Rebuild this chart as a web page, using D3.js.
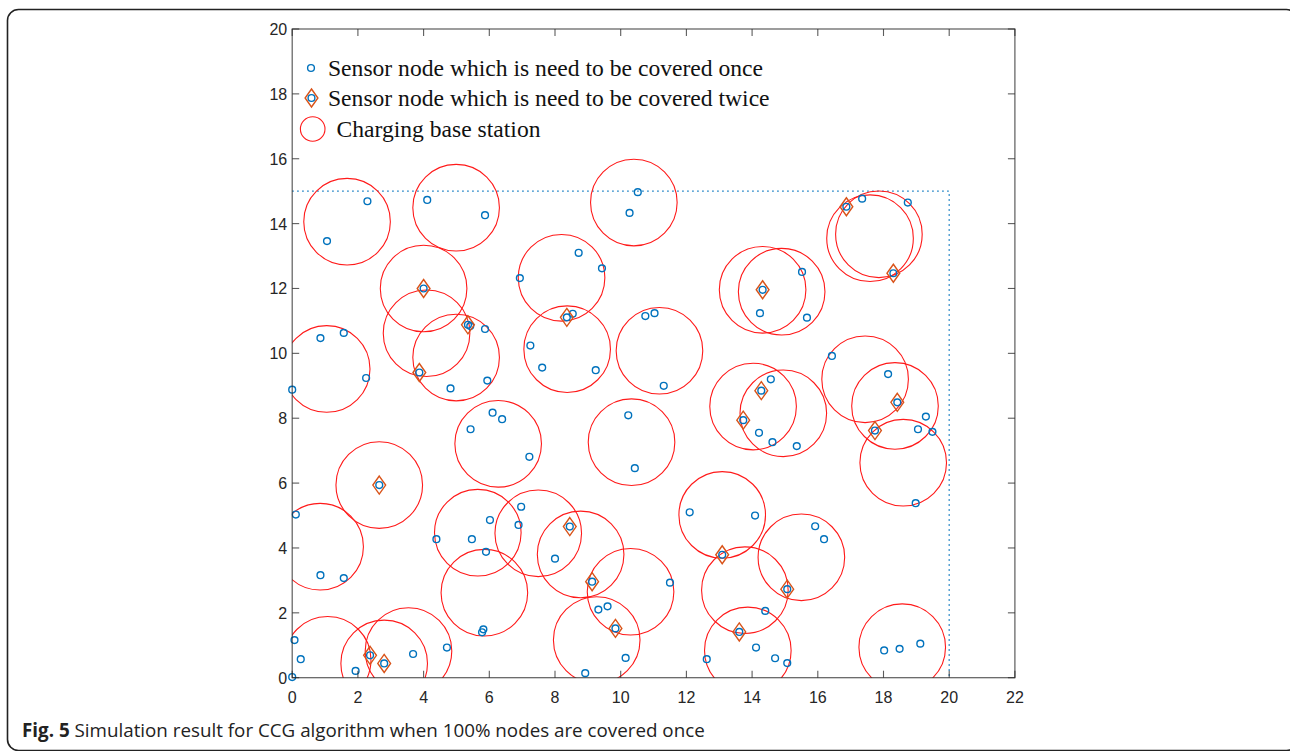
<!DOCTYPE html>
<html>
<head>
<meta charset="utf-8">
<script src="https://cdn.jsdelivr.net/npm/d3@7"></script>
<style>
  html, body { margin: 0; padding: 0; background: #fff; }
  svg { display: block; }
</style>
</head>
<body>
<svg id="chart" width="1290" height="751"></svg>
<script>
// ---------- DATA ----------
const xTicks = [0, 2, 4, 6, 8, 10, 12, 14, 16, 18, 20, 22];
const yTicks = [0, 2, 4, 6, 8, 10, 12, 14, 16, 18, 20];

const legendLabels = [
  "Sensor node which is need to be covered once",
  "Sensor node which is need to be covered twice",
  "Charging base station"
];
const captionBold = "Fig. 5";
const captionText = " Simulation result for CCG algorithm when 100% nodes are covered once";

// region boundary (dotted)
const regionBoundary = [[0, 15], [20, 15], [20, 0]];

// sensor nodes covered once
const sensorNodes = [
  [0.86,10.47],[1.57,10.63],[2.29,14.69],[1.06,13.46],[4.11,14.73],[5.87,14.26],[6.93,12.32],[7.25,10.24],[5.42,10.84],[5.87,10.75],
  [10.52,14.97],[10.27,14.33],[8.72,13.10],[9.43,12.62],[8.54,11.22],[10.75,11.15],[11.03,11.24],[14.24,11.24],
  [17.35,14.77],[18.74,14.65],[15.52,12.51],[15.67,11.10],[16.43,9.92],
  [0.00,8.88],[2.25,9.24],[4.82,8.92],[5.94,9.16],[5.43,7.66],[6.10,8.17],[6.39,7.97],[7.22,6.81],[0.11,5.03],[0.86,3.16],[1.57,3.07],
  [4.39,4.27],[5.47,4.27],[6.02,4.86],[5.90,3.88],[6.97,5.27],[6.89,4.71],[5.82,1.49],[5.78,1.40],[0.07,1.16],[0.26,0.57],[0.00,0.02],
  [1.93,0.21],[3.68,0.73],[4.71,0.93],
  [7.61,9.56],[9.24,9.48],[11.31,9.00],[10.23,8.09],[10.43,6.46],[14.57,9.20],[14.21,7.55],[14.62,7.26],[12.10,5.10],[14.09,5.00],
  [8.00,3.67],[11.50,2.93],[9.32,2.10],[9.60,2.20],[10.15,0.61],[8.92,0.14],[14.40,2.06],[14.12,0.93],[12.62,0.57],[14.70,0.60],
  [18.14,9.36],[19.29,8.05],[19.05,7.66],[19.49,7.58],[18.98,5.38],[15.36,7.14],[15.92,4.67],[16.19,4.27],[18.02,0.84],[18.49,0.89],
  [19.12,1.05],[15.07,0.45]
];

// sensor nodes covered twice
const twiceNodes = [
  [4.00,12.00],[5.35,10.88],[8.36,11.11],[14.32,11.96],[16.87,14.52],[18.30,12.47],[3.87,9.41],[2.65,5.94],[2.37,0.69],[2.80,0.44],
  [14.28,8.85],[13.73,7.94],[13.09,3.79],[8.45,4.66],[9.13,2.96],[9.84,1.52],[13.61,1.41],[18.42,8.49],[17.74,7.62],[15.07,2.73]
];

// charging base stations
const stations = [
  [1.67,14.06],[4.99,14.49],[10.40,14.65],[8.20,12.33],[4.00,12.00],[4.09,10.62],[4.99,9.87],[1.05,9.52],[8.37,10.13],[11.18,10.08],
  [14.32,11.96],[14.90,11.90],[17.59,13.55],[17.86,13.67],[17.44,9.20],[18.35,8.38],[18.60,6.63],[14.03,8.36],[14.95,8.15],[6.27,7.21],
  [10.33,7.26],[2.65,5.94],[0.85,4.04],[5.65,4.47],[7.49,4.45],[8.78,3.80],[5.85,2.62],[10.30,2.65],[9.27,1.16],[13.09,5.02],
  [13.78,2.70],[13.87,0.84],[15.50,3.71],[18.57,0.94],[1.08,0.55],[2.80,0.44],[3.54,0.82]
];

// ---------- STYLE ----------
const BLUE = "#0072BD", ORANGE = "#D95319", RED = "#FF1A1A", AXIS = "#262626";
const plot = { left: 292.2, right: 1014.9, top: 29, bottom: 677.7 };
const stationR = 43.3, nodeR = 3.4, diaW = 6.4, diaH = 9;

const svg = d3.select("#chart");

// outer rounded frame
svg.append("rect")
  .attr("x", 7.5).attr("y", 9.5).attr("width", 1290).attr("height", 741)
  .attr("rx", 11).attr("ry", 11)
  .attr("fill", "none").attr("stroke", "#222").attr("stroke-width", 1.6);

const x = d3.scaleLinear().domain([0, 22]).range([plot.left, plot.right]);
const y = d3.scaleLinear().domain([0, 20]).range([plot.bottom, plot.top]);

const g = svg.append("g");

// clip to axes (for lines only)
svg.append("defs").append("clipPath").attr("id", "clip")
  .append("rect").attr("x", plot.left).attr("y", plot.top)
  .attr("width", plot.right - plot.left).attr("height", plot.bottom - plot.top);

const lines = g.append("g").attr("clip-path", "url(#clip)");
const marks = g.append("g");

// dotted region boundary
lines.append("path")
  .attr("d", d3.line().x(d => x(d[0])).y(d => y(d[1]))(regionBoundary))
  .attr("fill", "none").attr("stroke", BLUE).attr("stroke-width", 1.3)
  .attr("stroke-dasharray", "1.5,3.5");

const diamond = (cx, cy, w, h) => `M${cx},${cy - h}L${cx + w},${cy}L${cx},${cy + h}L${cx - w},${cy}Z`;

// sensor nodes (once) - also drawn under twice nodes
marks.selectAll("circle.node").data(sensorNodes.concat(twiceNodes)).join("circle")
  .attr("class", "node")
  .attr("cx", d => x(d[0])).attr("cy", d => y(d[1])).attr("r", nodeR)
  .attr("fill", "none").attr("stroke", BLUE).attr("stroke-width", 1.4);

// twice nodes diamonds
marks.selectAll("path.tw").data(twiceNodes).join("path")
  .attr("class", "tw")
  .attr("d", d => diamond(x(d[0]), y(d[1]), diaW, diaH))
  .attr("fill", "none").attr("stroke", ORANGE).attr("stroke-width", 1.4);

// stations (circle outlines, clipped at the axes)
lines.selectAll("circle.st").data(stations).join("circle")
  .attr("class", "st")
  .attr("cx", d => x(d[0])).attr("cy", d => y(d[1])).attr("r", stationR)
  .attr("fill", "none").attr("stroke", RED).attr("stroke-width", 1.1);

// ---------- AXES ----------
const tickLen = 7;
const axG = g.append("g");
axG.append("rect")
  .attr("x", plot.left).attr("y", plot.top)
  .attr("width", plot.right - plot.left).attr("height", plot.bottom - plot.top)
  .attr("fill", "none").attr("stroke", AXIS).attr("stroke-opacity", 0.75).attr("stroke-width", 1.2);

xTicks.forEach(t => {
  [[plot.bottom, -tickLen], [plot.top, tickLen]].forEach(([yy, dl]) => {
    axG.append("line").attr("x1", x(t)).attr("x2", x(t)).attr("y1", yy).attr("y2", yy + dl)
      .attr("stroke", AXIS).attr("stroke-opacity", 0.75).attr("stroke-width", 1.1);
  });
  axG.append("text").attr("x", x(t)).attr("y", plot.bottom + 25)
    .attr("text-anchor", "middle").attr("font-family", "Liberation Sans, Arial, sans-serif")
    .attr("font-size", 16).attr("fill", AXIS).text(t);
});
yTicks.forEach(t => {
  [[plot.left, tickLen], [plot.right, -tickLen]].forEach(([xx, dl]) => {
    axG.append("line").attr("y1", y(t)).attr("y2", y(t)).attr("x1", xx).attr("x2", xx + dl)
      .attr("stroke", AXIS).attr("stroke-opacity", 0.75).attr("stroke-width", 1.1);
  });
  axG.append("text").attr("x", plot.left - 5).attr("y", y(t) + 6)
    .attr("text-anchor", "end").attr("font-family", "Liberation Sans, Arial, sans-serif")
    .attr("font-size", 16).attr("fill", AXIS).text(t);
});

// ---------- LEGEND ----------
const leg = g.append("g");
const serif = "Liberation Serif, Times New Roman, serif";
const rows = [68, 98, 129];
leg.append("circle").attr("cx", 311).attr("cy", rows[0]).attr("r", nodeR)
  .attr("fill", "none").attr("stroke", BLUE).attr("stroke-width", 1.4);
leg.append("circle").attr("cx", 311.5).attr("cy", rows[1]).attr("r", nodeR)
  .attr("fill", "none").attr("stroke", BLUE).attr("stroke-width", 1.4);
leg.append("path").attr("d", diamond(311.5, rows[1], diaW, diaH))
  .attr("fill", "none").attr("stroke", ORANGE).attr("stroke-width", 1.4);
leg.append("circle").attr("cx", 312.7).attr("cy", rows[2]).attr("r", 12.3)
  .attr("fill", "none").attr("stroke", RED).attr("stroke-width", 1.1);

const textX = [328, 328, 336.5];
legendLabels.forEach((lab, i) => {
  leg.append("text").attr("x", textX[i]).attr("y", rows[i] + 7.5)
    .attr("font-family", serif).attr("font-size", 23.6).attr("fill", "#111").text(lab);
});

// ---------- CAPTION ----------
const cap = svg.append("text").attr("x", 22).attr("y", 737)
  .attr("font-family", "Open Sans, Noto Sans, sans-serif").attr("font-size", 18.8).attr("fill", "#222");
cap.append("tspan").attr("font-weight", "bold").text(captionBold);
cap.append("tspan").text(captionText);
</script>
</body>
</html>
